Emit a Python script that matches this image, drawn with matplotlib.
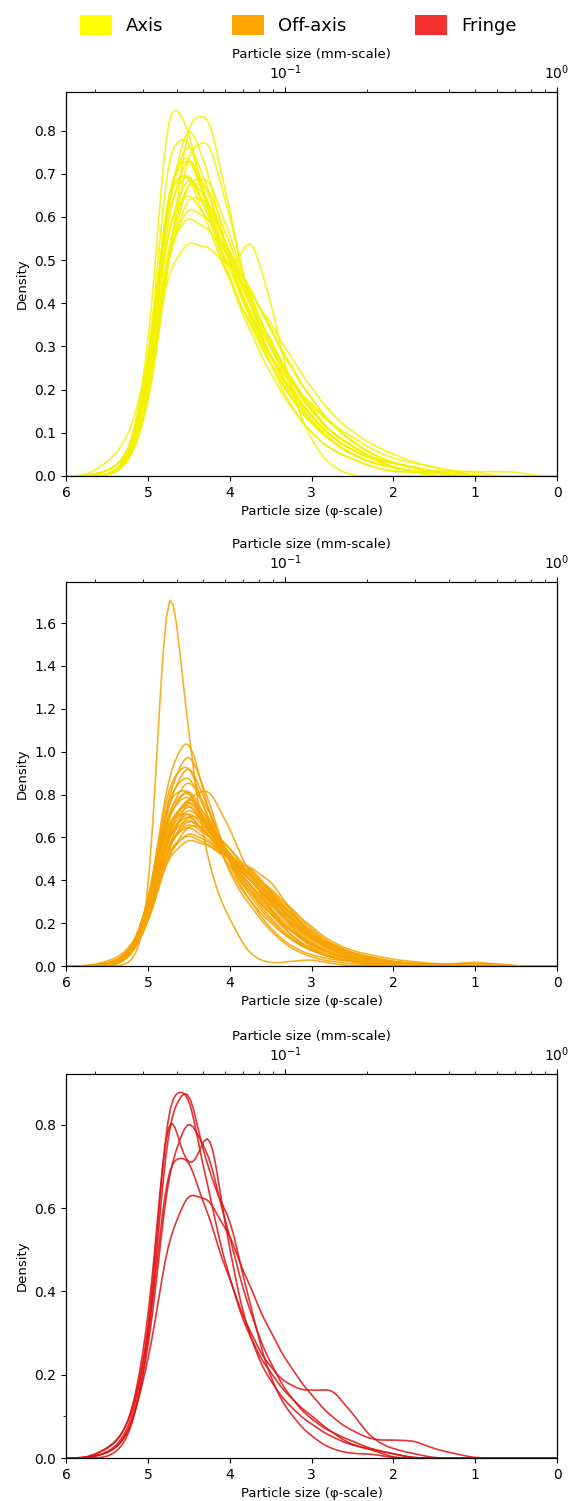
import numpy as np
import matplotlib
matplotlib.use("Agg")
import matplotlib.pyplot as plt
import seaborn as sns
from matplotlib.patches import Patch

# phi-bin centres of the grain-size fractions (same for every sample)
phi_bins = [5.5, 5.25, 5.0, 4.75, 4.5, 4.25, 4.0, 3.75, 3.5, 3.25, 3.0,
            2.75, 2.5, 2.25, 2.0, 1.75, 1.5, 1.25, 1.0, 0.75, 0.5]

# relative weight of each fraction, one row per sample
axis_w = [
    [0, 3, 25, 94, 82, 60, 46, 34, 24, 16, 10, 6, 4, 2, 1, 1, 0, 0, 0, 0, 0],
    [0, 2, 14, 50, 86, 86, 62, 40, 26, 16, 10, 6, 4, 2, 1, 1, 0, 0, 0, 0, 0],
    [0, 2, 18, 66, 85, 70, 50, 36, 26, 18, 12, 8, 5, 3, 2, 1, 1, 0, 0, 0, 0],
    [0, 2, 15, 52, 80, 82, 62, 42, 28, 19, 13, 8, 5, 3, 2, 1, 1, 0, 0, 0, 0],
    [0, 3, 20, 72, 78, 64, 50, 38, 28, 20, 14, 9, 6, 4, 2, 1, 1, 0, 0, 0, 0],
    [0, 2, 18, 64, 78, 66, 52, 40, 30, 21, 14, 9, 6, 4, 2, 1, 1, 0, 0, 0, 0],
    [1, 4, 22, 70, 72, 62, 50, 38, 28, 20, 14, 9, 6, 4, 3, 2, 1, 0, 0, 0, 0],
    [0, 3, 19, 60, 72, 64, 52, 40, 30, 22, 15, 10, 7, 4, 3, 2, 1, 1, 0, 0, 0],
    [0, 2, 16, 56, 70, 68, 54, 42, 31, 22, 15, 10, 7, 4, 3, 2, 1, 1, 0, 0, 0],
    [1, 4, 21, 62, 68, 60, 52, 42, 32, 23, 16, 10, 7, 4, 3, 2, 1, 0, 0, 0, 0],
    [0, 2, 18, 68, 80, 66, 50, 38, 28, 19, 13, 8, 5, 3, 2, 1, 1, 0, 0, 0, 0],
    [0, 3, 22, 72, 72, 58, 46, 36, 28, 22, 17, 12, 8, 5, 3, 2, 1, 1, 0, 0, 0],
    [0, 2, 20, 72, 78, 64, 46, 60, 42, 20, 8, 2, 0, 0, 0, 0, 0, 0, 0, 0, 0],
    [1, 4, 20, 56, 62, 58, 52, 44, 35, 26, 18, 12, 8, 5, 3, 2, 1, 1, 0, 0, 0],
    [1, 4, 20, 48, 54, 52, 48, 42, 35, 27, 20, 14, 10, 7, 5, 3, 2, 1, 1, 0, 0],
    [3, 8, 24, 66, 72, 60, 48, 37, 28, 20, 14, 9, 6, 4, 2, 1, 1, 0, 0, 0, 0],
    [0, 2, 16, 52, 66, 64, 52, 40, 30, 22, 16, 12, 9, 6, 4, 3, 2, 1, 1, 1, 1],
    [0, 3, 22, 80, 80, 62, 46, 35, 26, 18, 12, 8, 5, 3, 2, 1, 1, 0, 0, 0, 0],
    [0, 2, 15, 52, 70, 70, 56, 42, 31, 22, 15, 10, 7, 4, 3, 2, 1, 0, 0, 0, 0],
    [0, 3, 18, 54, 64, 60, 52, 44, 34, 25, 18, 12, 8, 5, 3, 2, 1, 1, 0, 0, 0],
]

offaxis_w = [
    [0, 0, 8, 200, 95, 40, 20, 4, 1, 2, 3, 1, 0, 0, 0, 0, 0, 0, 0, 0, 0],
    [0, 2, 24, 92, 112, 70, 42, 28, 16, 8, 4, 2, 1, 0, 0, 0, 0, 0, 0, 0, 0],
    [0, 2, 22, 82, 104, 76, 46, 30, 17, 9, 5, 3, 2, 1, 0, 0, 0, 0, 0, 0, 0],
    [0, 3, 26, 88, 98, 66, 44, 30, 20, 12, 7, 4, 2, 1, 0, 0, 0, 0, 0, 0, 0],
    [0, 2, 22, 78, 98, 72, 48, 32, 21, 12, 7, 4, 2, 1, 0, 0, 0, 0, 0, 0, 0],
    [0, 3, 24, 82, 92, 68, 48, 34, 22, 13, 7, 4, 2, 1, 0, 0, 0, 0, 0, 0, 0],
    [0, 2, 22, 74, 90, 72, 50, 35, 24, 14, 8, 4, 2, 1, 1, 1, 0, 0, 0, 0, 0],
    [0, 2, 18, 56, 80, 84, 64, 42, 26, 14, 7, 4, 2, 1, 0, 0, 0, 0, 0, 0, 0],
    [0, 3, 26, 82, 84, 62, 46, 34, 24, 16, 10, 6, 3, 2, 1, 1, 0, 0, 0, 0, 0],
    [0, 3, 24, 72, 86, 66, 50, 37, 26, 16, 9, 5, 3, 1, 1, 1, 0, 0, 0, 0, 0],
    [0, 3, 24, 74, 82, 64, 50, 38, 27, 17, 10, 5, 3, 1, 1, 1, 0, 0, 0, 0, 0],
    [0, 2, 20, 64, 82, 68, 50, 46, 36, 18, 8, 4, 2, 0, 0, 0, 0, 0, 0, 0, 0],
    [0, 3, 22, 68, 80, 66, 52, 40, 29, 18, 10, 6, 3, 2, 1, 0, 0, 0, 0, 0, 0],
    [0, 3, 24, 70, 78, 62, 50, 40, 30, 19, 11, 6, 3, 2, 1, 1, 0, 0, 0, 0, 0],
    [0, 2, 20, 64, 78, 64, 50, 40, 30, 20, 12, 9, 6, 2, 1, 1, 1, 0, 0, 0, 0],
    [0, 4, 26, 72, 72, 60, 50, 40, 30, 20, 12, 7, 4, 2, 1, 0, 0, 0, 0, 0, 0],
    [0, 2, 20, 62, 76, 64, 52, 42, 32, 21, 13, 7, 4, 2, 1, 1, 1, 0, 0, 0, 0],
    [0, 3, 22, 62, 74, 62, 52, 42, 32, 22, 13, 7, 4, 2, 1, 1, 0, 0, 0, 0, 0],
    [0, 3, 22, 64, 72, 60, 50, 40, 31, 22, 13, 8, 5, 3, 1, 1, 1, 1, 2, 1, 0],
    [0, 2, 18, 56, 72, 66, 54, 42, 32, 22, 13, 8, 5, 3, 2, 1, 1, 0, 0, 0, 0],
    [1, 4, 24, 62, 70, 60, 50, 40, 31, 22, 14, 8, 5, 3, 2, 1, 1, 0, 0, 0, 0],
    [0, 3, 20, 58, 70, 62, 52, 42, 33, 23, 14, 8, 5, 3, 2, 1, 1, 1, 1, 1, 0],
    [0, 3, 20, 58, 68, 60, 50, 46, 40, 26, 13, 7, 4, 2, 1, 1, 0, 0, 0, 0, 0],
    [1, 4, 24, 60, 66, 58, 50, 42, 33, 24, 15, 9, 5, 3, 2, 1, 1, 0, 0, 0, 0],
    [0, 2, 18, 52, 66, 64, 54, 44, 34, 24, 15, 9, 5, 3, 2, 1, 1, 1, 0, 0, 0],
    [2, 6, 24, 54, 64, 58, 50, 42, 34, 25, 16, 10, 6, 4, 2, 1, 1, 1, 1, 1, 0],
    [1, 5, 24, 56, 62, 56, 50, 43, 35, 26, 17, 10, 6, 4, 2, 1, 1, 0, 0, 0, 0],
    [1, 4, 22, 52, 60, 56, 50, 44, 36, 27, 18, 11, 7, 5, 3, 2, 1, 1, 0, 0, 0],
    [0, 3, 24, 76, 84, 64, 48, 36, 25, 16, 10, 6, 3, 2, 1, 1, 1, 0, 0, 0, 0],
    [0, 2, 20, 66, 80, 64, 48, 38, 28, 20, 14, 10, 6, 3, 1, 0, 0, 0, 0, 0, 0],
]

fringe_w = [
    [1, 5, 24, 90, 88, 62, 42, 28, 20, 14, 10, 6, 3, 2, 1, 0, 0, 0, 0, 0, 0],
    [0, 3, 22, 84, 90, 66, 58, 36, 18, 10, 5, 2, 1, 1, 0, 0, 0, 0, 0, 0, 0],
    [2, 6, 28, 92, 64, 84, 48, 28, 18, 12, 8, 5, 3, 2, 0, 0, 0, 0, 0, 0, 0],
    [1, 4, 22, 70, 82, 72, 52, 34, 22, 14, 9, 6, 4, 2, 1, 0, 0, 0, 0, 0, 0],
    [2, 6, 24, 70, 68, 54, 40, 28, 20, 16, 15, 16, 10, 4, 2, 1, 0, 0, 0, 0, 0],
    [1, 4, 20, 50, 60, 58, 50, 38, 28, 20, 14, 9, 6, 4, 4, 4, 2, 1, 0, 0, 0],
]

groups = ["Axis", "Off-axis", "Fringe"]
weights = [axis_w, offaxis_w, fringe_w]
y_ticks = [np.arange(0, 0.81, 0.1), np.arange(0, 1.61, 0.2), np.arange(0, 0.81, 0.2)]
line_colors = ["#f2f200", "#f5a300", "#e01010"]
patch_colors = ["#ffff00", "#ffa500", "#f43030"]

kde_bw = 0.14  # kernel width in phi units

fig = plt.figure(figsize=(5.71, 15.01), dpi=100)
boxes = [[0.1156, 0.6829, 0.860, 0.2558],
         [0.1156, 0.3564, 0.860, 0.2558],
         [0.1156, 0.0286, 0.860, 0.2558]]

x = np.array(phi_bins)
for i in range(3):
    ax = fig.add_axes(boxes[i])
    for w in weights[i]:
        w = np.array(w, dtype=float)
        wn = w / w.sum()
        m = np.sum(wn * x)
        # same (unbiased, weighted) spread the kde uses, so the kernel is kde_bw wide
        sd = np.sqrt(np.sum(wn * (x - m) ** 2) / (1 - np.sum(wn ** 2)))
        sns.kdeplot(x=x, weights=w, bw_method=kde_bw / sd, ax=ax,
                    color=line_colors[i], lw=1.2, alpha=0.85)
    ax.set_xlim(6, 0)
    ax.set_xticks([6, 5, 4, 3, 2, 1, 0])
    ax.set_yticks(y_ticks[i])
    ax.yaxis.set_major_formatter(plt.FormatStrFormatter("%.1f"))
    if i == 2:
        ax.set_yticks([0.1], minor=True)
    ax.set_xlabel("Particle size (\u03c6-scale)", fontsize=9.5)
    ax.set_ylabel("Density", fontsize=9.5)
    ax.tick_params(labelsize=10)

    # mm scale on top: 2**-phi, log axis
    top = ax.twiny()
    top.set_xscale("log")
    top.set_xlim(2.0 ** -6, 2.0 ** 0)
    top.set_xlabel("Particle size (mm-scale)", fontsize=9.5)
    top.tick_params(labelsize=10)

handles = [Patch(facecolor=c, label=g) for g, c in zip(groups, patch_colors)]
fig.legend(handles=handles, loc="center", bbox_to_anchor=(0.522, 0.9833),
           ncol=3, frameon=False, fontsize=13, handlelength=1.8, handleheight=1.35,
           handletextpad=0.75, columnspacing=3.8)

fig.savefig("out.png", dpi=100)
